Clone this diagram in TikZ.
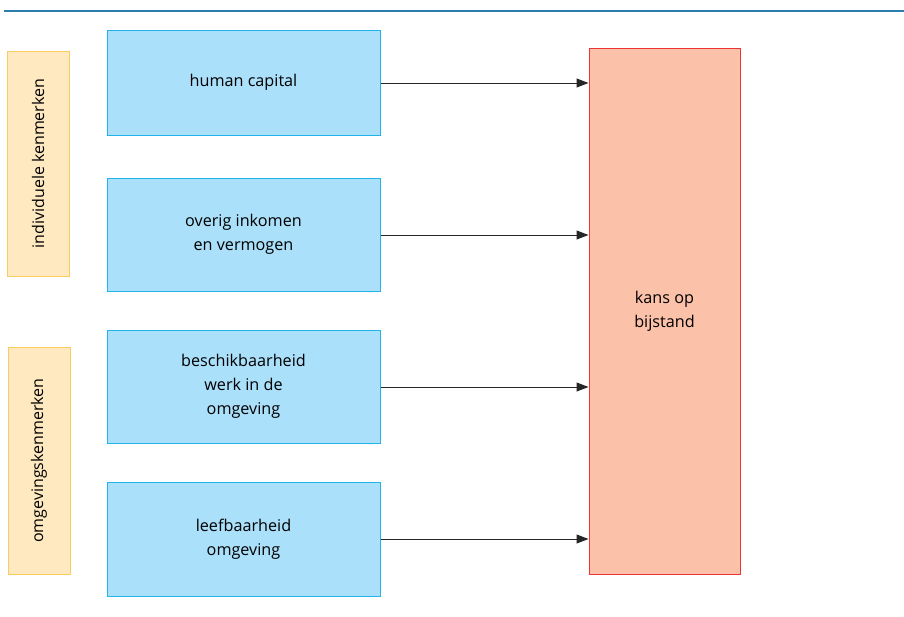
\documentclass[tikz,border=0pt]{standalone}
\usepackage{fontspec}
\setmainfont{Open Sans}
\usetikzlibrary{arrows.meta}
\definecolor{bfill}{HTML}{ABE0FA}
\definecolor{bdraw}{HTML}{22B2EC}
\definecolor{yfill}{HTML}{FFE9C0}
\definecolor{ydraw}{HTML}{FBCB62}
\definecolor{rfill}{HTML}{FBC1A9}
\definecolor{rdraw}{HTML}{EE3535}
\definecolor{topline}{HTML}{2E7DAF}
\begin{document}
\begin{tikzpicture}[x=1pt,y=-1pt,
  bluebox/.style={draw=bdraw,fill=bfill,line width=1pt,minimum width=273pt,align=center,font=\fontsize{16.2}{24}\selectfont,inner sep=0pt},
  sidebox/.style={draw=ydraw,fill=yfill,line width=1pt,minimum height=62pt,align=center,font=\fontsize{16}{24}\selectfont,inner sep=0pt,rotate=90},
  arr/.style={-{Triangle[length=12pt,width=9pt]},line width=1pt,draw=black!85}]
\useasboundingbox (0,0) rectangle (904,616);
\draw[topline,line width=1.6pt] (4,11) -- (904,11);
\node[sidebox,minimum width=225pt] (ind) at (38,163.5) {individuele kenmerken};
\node[sidebox,minimum width=227pt] (omg) at (39,460.5) {omgevingskenmerken};
\node[bluebox,minimum height=105pt] (b1) at (243.5,82.5) {human capital};
\node[bluebox,minimum height=113pt] (b2) at (243.5,234.5) {overig inkomen\\en vermogen};
\node[bluebox,minimum height=113pt] (b3) at (243.5,386.5) {beschikbaarheid\\werk in de\\omgeving};
\node[bluebox,minimum height=114pt] (b4) at (243.5,539) {leefbaarheid\\omgeving};
\node[draw=rdraw,fill=rfill,line width=1pt,minimum width=151pt,minimum height=526pt,align=center,font=\fontsize{16.2}{24}\selectfont,inner sep=0pt] (r) at (664.5,311) {kans op\\bijstand};
\foreach \b/\y in {b1/83,b2/235,b3/387,b4/539}{
  \draw[arr] (\b.east |- 0,\y) -- (r.west |- 0,\y);
}
\end{tikzpicture}
\end{document}
